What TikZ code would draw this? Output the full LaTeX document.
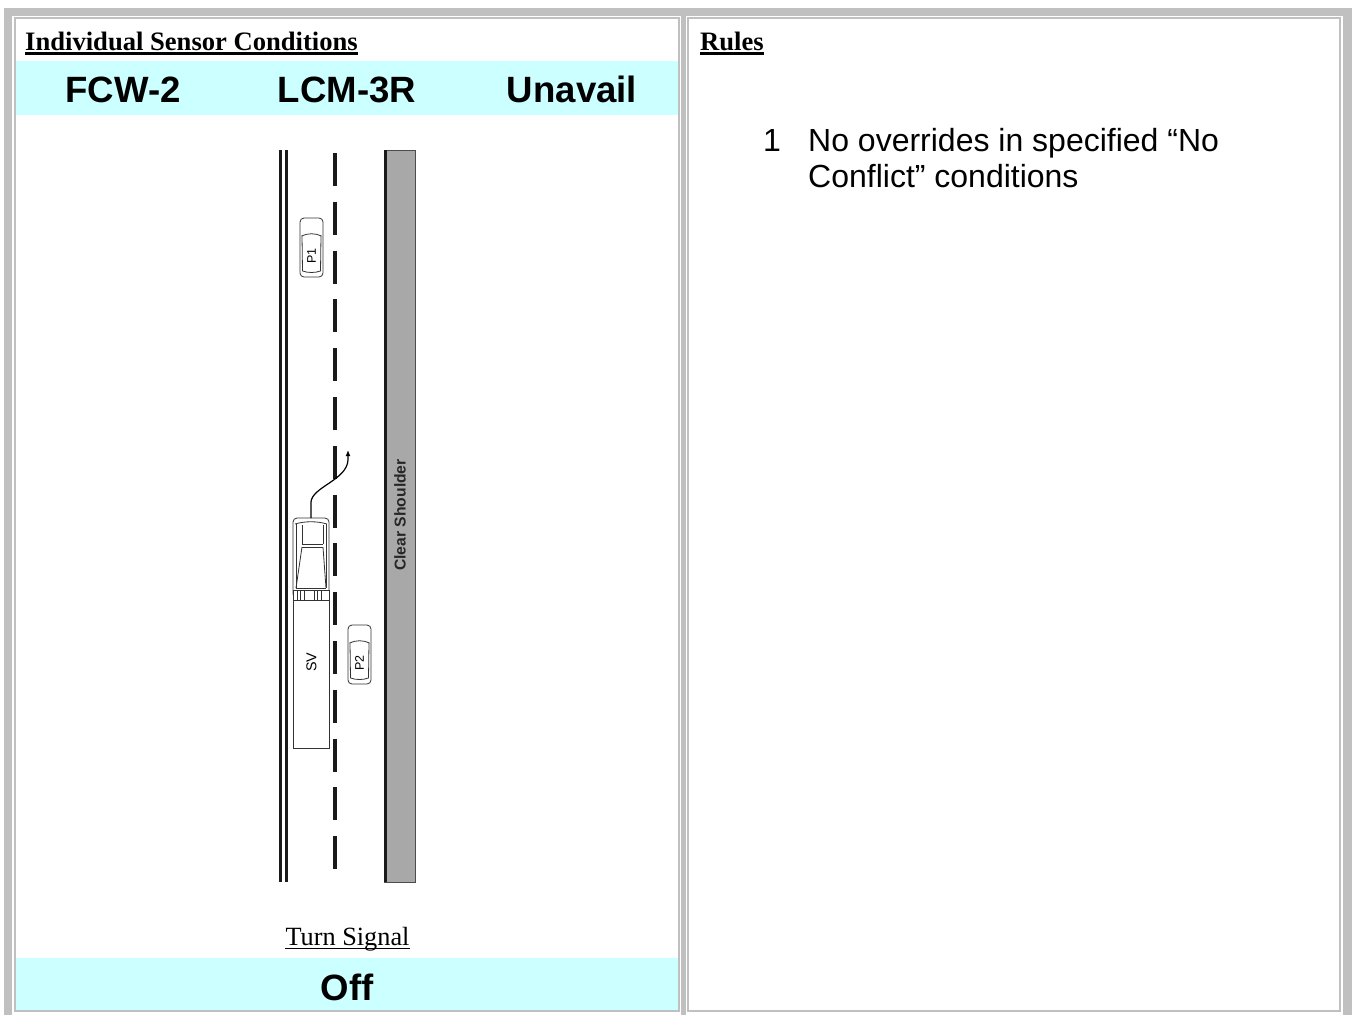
\documentclass[tikz,border=0pt]{standalone}
\usepackage{fontspec}
\usepackage{tikz}
\usepackage{xcolor}
\usetikzlibrary{arrows.meta}

\setmainfont{Liberation Serif}
\newfontfamily\arial{Liberation Sans}

\definecolor{framegray}{HTML}{C0C0C0}
\definecolor{bandcyan}{HTML}{CCFFFF}
\definecolor{shoulder}{HTML}{A8A8A8}
\definecolor{roadline}{HTML}{1A1A1A}

\begin{document}
\begin{tikzpicture}[x=1pt,y=-1pt,
    heading/.style={anchor=base west,inner sep=0pt,font=\bfseries\fontsize{26.6}{30}\selectfont},
    bandtext/.style={anchor=base,inner sep=0pt,font=\arial\bfseries\fontsize{36.6}{40}\selectfont},
    ruletext/.style={anchor=base west,inner sep=0pt,font=\arial\fontsize{32}{37}\selectfont},
    carlabel/.style={inner sep=0pt,rotate=90,font=\arial\fontsize{12.5}{14}\selectfont},
    car/.style={draw=black!80,line width=0.8pt,fill=white},
    ]
\useasboundingbox (0,0) rectangle (1356,1015);
\fill[white] (0,0) rectangle (1356,1015);

% table frame and cells
\fill[framegray] (4,8) rectangle (1352,1015);
\fill[white] (12,16) rectangle (681,1015);
\fill[white] (686,16) rectangle (1343,1015);
\draw[framegray,line width=2pt] (15,18) rectangle (679,1011);
\draw[framegray,line width=2pt] (688,18) rectangle (1340,1011);
\fill[bandcyan] (16,61) rectangle (678,115);
\fill[bandcyan] (16,958) rectangle (678,1010);

% headings
\node[heading] (sensHd) at (25,50) {Individual Sensor Conditions};
\draw[line width=2.2pt] ([yshift=-3.5pt]sensHd.base west) -- ([yshift=-3.5pt]sensHd.base east);
\node[heading] (rulesHd) at (700,50) {Rules};
\draw[line width=2.2pt] ([yshift=-3.5pt]rulesHd.base west) -- ([yshift=-3.5pt]rulesHd.base east);

% sensor states
\node[bandtext] (fcw) at (123,102) {FCW-2};
\node[bandtext] (lcm) at (347,102) {LCM-3R};
\node[bandtext] (avail) at (572,102) {Unavail};

% road
\draw[roadline,line width=3pt] (280.5,150) -- (280.5,882);
\draw[roadline,line width=3pt] (286.5,150) -- (286.5,882);
\draw[roadline,line width=4pt,dash pattern=on 33pt off 15.8pt] (335,153) -- (335,869);
\draw[draw=black!70,fill=shoulder,line width=1pt] (384,150) rectangle (415,882);
\draw[roadline,line width=3pt] (385,150) -- (385,882);
\node[rotate=90,inner sep=0pt,font=\arial\bfseries\fontsize{15.7}{18}\selectfont,text=black!85] (shoulderLbl) at (400,515) {Clear Shoulder};

% other cars
\foreach \cx/\cy/\lbl in {300/218/P1, 348/625/P2}{
  \begin{scope}[shift={(\cx,\cy)}]
    \draw[car,rounded corners=4pt] (0,0) rectangle (23,59);
    \draw[car,fill=none] (1.5,18) .. controls (8,15) and (15,15) .. (21.5,18);
    \draw[car,fill=none] (2,18) -- (2.5,53) (21,18) -- (20.5,53);
    \draw[car,fill=none] (2.5,53) .. controls (8,55) and (15,55) .. (20.5,53);
    \node[carlabel] (\lbl) at (11.5,38) {\lbl};
  \end{scope}
}

% subject vehicle
\draw[car,rounded corners=4pt] (293,518) rectangle (329,598);
\draw[car] (293,590) rectangle (329,748);
\draw[car,fill=none] (295,524) .. controls (305,521) and (317,521) .. (327,524);
\draw[car,fill=none] (296,524) -- (296,588) (326,524) -- (326,588);
\draw[car,fill=none] (302,525) -- (302,544) (323,525) -- (323,544);
\draw[car,fill=none] (302,544) -- (323,544) (302,547) -- (323,547);
\draw[car,fill=none] (302,547) -- (296,588) (323,547) -- (326,588);
\draw[car,fill=none] (296,588) -- (326,588) (293,600) -- (329,600);
\draw[car,fill=none,line width=0.7pt] (297,590) rectangle (304,600) (300.5,590) -- (300.5,600)
  (314,590) rectangle (321,600) (317.5,590) -- (317.5,600);
\node[carlabel,font=\arial\fontsize{14.3}{16}\selectfont] (svLbl) at (311.5,662) {SV};

% lane change path
\coordinate (svFront) at (311,518);
\coordinate (svTarget) at (348,450);
\draw[line width=1.2pt,-{Latex[length=6pt,width=5pt]}] (svFront) -- (311,502)
  .. controls (312,487) and (347,480) .. (348,460) -- (svTarget);

% turn signal
\node[anchor=base,inner sep=0pt,font=\fontsize{26.3}{30}\selectfont] (turnHd) at (347.5,945) {Turn Signal};
\draw[line width=1.5pt] ([yshift=-3.5pt]turnHd.base west) -- ([yshift=-3.5pt]turnHd.base east);
\node[bandtext] (turnState) at (347,1000) {Off};

% rules
\node[ruletext] (ruleNum) at (763,151) {1};
\node[ruletext] (ruleA) at (808,151) {No overrides in specified “No};
\node[ruletext] (ruleB) at (808,187) {Conflict” conditions};
\end{tikzpicture}
\end{document}
